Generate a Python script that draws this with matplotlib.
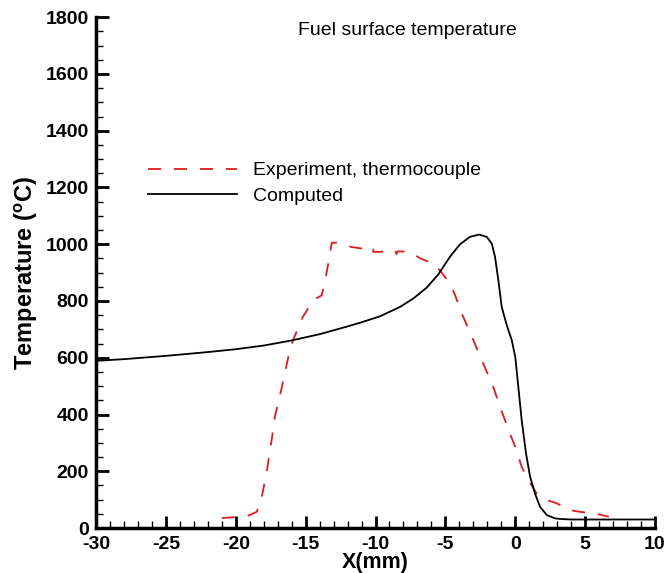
import numpy as np
import matplotlib
matplotlib.use('Agg')
import matplotlib.pyplot as plt
from matplotlib.ticker import MultipleLocator

plt.rcParams['font.family'] = ['Liberation Sans', 'DejaVu Sans']
plt.rcParams['mathtext.fontset'] = 'custom'
plt.rcParams['mathtext.rm'] = 'Liberation Sans:bold'
plt.rcParams['mathtext.bf'] = 'Liberation Sans:bold'
plt.rcParams['axes.unicode_minus'] = False

# computed surface temperature
x_comp = [-30.4, -28.0, -24.9, -22.0, -20.0, -18.0, -16.1, -14.0, -12.1, -11.0, -9.68, -8.25,
          -7.29, -6.34, -5.5, -4.67, -3.95, -3.24, -2.59, -2.04, -1.68, -1.45, -1.21, -0.97,
          -0.61, -0.25, 0.0, 0.22, 0.46, 0.77, 1.06, 1.41, 1.77, 2.25, 2.84, 3.2, 4.0, 10.0]
t_comp = [588, 595, 607, 620, 630, 643, 660, 683, 709, 725, 746, 779,
          809, 847, 894, 956, 1000, 1026, 1034, 1026, 1002, 956, 873, 779,
          715, 662, 603, 497, 380, 263, 181, 122, 75, 46, 34, 32, 30, 30]

# thermocouple measurement
x_exp = [-21.0, -20.2, -19.2, -18.5, -18.14, -17.8, -17.4, -17.2, -16.7, -16.24, -15.9, -15.2,
         -14.45, -13.85, -13.6, -13.3, -13.13, -12.66, -11.7, -11.0, -10.16, -10.16, -9.7,
         -8.6, -8.5, -8.4, -7.5, -6.8, -5.86, -5.4, -4.67, -4.3, -3.83, -3.1, -2.4, -1.57,
         -1.09, -0.38, 0.0, 0.46, 0.93, 1.53, 2.25, 2.97, 3.92, 4.63, 5.59, 6.7]
t_exp = [35, 38, 42, 57, 110, 193, 321, 392, 497, 603, 662, 744,
         803, 820, 873, 955, 1005, 1006, 990, 985, 990, 973, 973,
         979, 965, 975, 973, 950, 932, 908, 862, 820, 756, 674, 592, 497,
         427, 333, 286, 216, 169, 122, 99, 87, 63, 57, 52, 40]

fig = plt.figure(figsize=(6.67, 5.73), dpi=100)
ax = fig.add_axes([0.144, 0.0785, 0.838, 0.8915])

ax.plot(x_exp, t_exp, color='#dd1c1c', lw=1.3, dashes=(7.2, 7.2),
        label='Experiment, thermocouple')
ax.plot(x_comp, t_comp, color='black', lw=1.3, label='Computed')

ax.set_xlim(-30, 10)
ax.set_ylim(0, 1800)
ax.xaxis.set_major_locator(MultipleLocator(5))
ax.xaxis.set_minor_locator(MultipleLocator(1))
ax.yaxis.set_major_locator(MultipleLocator(200))
ax.yaxis.set_minor_locator(MultipleLocator(50))
ax.tick_params(which='major', direction='in', length=9, width=2, labelsize=14)
ax.tick_params(axis='x', which='major', pad=5.5)
ax.tick_params(axis='y', which='major', pad=5)
ax.tick_params(which='minor', direction='in', length=5, width=1)
for lab in ax.get_xticklabels() + ax.get_yticklabels():
    lab.set_fontweight('bold')

ax.spines['top'].set_visible(False)
ax.spines['right'].set_visible(False)
ax.spines['left'].set_linewidth(2.5)
ax.spines['bottom'].set_linewidth(2.5)

ax.set_xlabel('X(mm)', fontsize=15.5, fontweight='bold')
ax.xaxis.set_label_coords(0.5, -0.047)
ax.set_ylabel(r'Temperature ($^{\mathbf{o}}$C)', fontsize=17, fontweight='bold', labelpad=4)

ax.text(0.557, 0.973, 'Fuel surface temperature', transform=ax.transAxes,
        ha='center', va='center', fontsize=14)

ax.legend(loc='upper left', bbox_to_anchor=(0.093, 0.717), frameon=False,
          fontsize=14, handlelength=4.6, handletextpad=0.8, labelspacing=0.4,
          borderpad=0, borderaxespad=0)

fig.savefig('out.png', dpi=100)
